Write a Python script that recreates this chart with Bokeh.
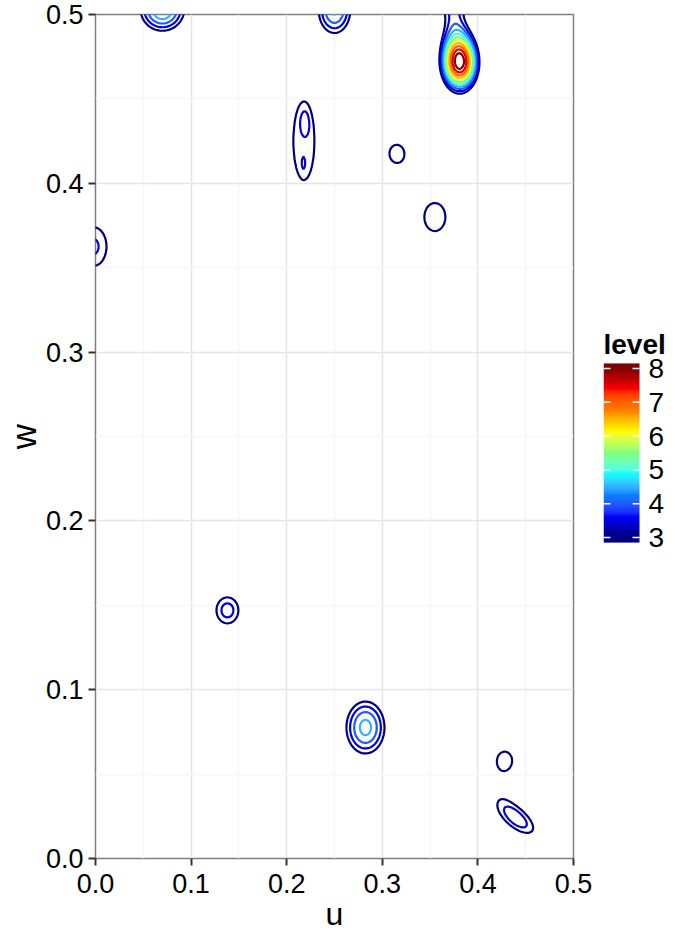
import numpy as np
from bokeh.plotting import figure
from bokeh.layouts import row
from bokeh.models import Range1d, FixedTicker, PrintfTickFormatter, LinearColorMapper
from bokeh.core.properties import value
from bokeh.embed import file_html
from bokeh.resources import INLINE

# ---------------- data ----------------
# peaks of the "level" surface over (u, w)
peak_u      = [0.381, 0.374, 0.070, 0.250, 0.218, 0.219, 0.2175, 0.315, 0.355, -0.002, 0.138, 0.2824, 0.428, 0.4404]
peak_w      = [0.4715, 0.515, 0.503, 0.503, 0.425, 0.436, 0.4115, 0.4177, 0.380, 0.3625, 0.147, 0.0776, 0.058, 0.0237]
peak_height = [8.1, 4.1, 5.0, 4.6, 3.35, 0.45, 0.30, 3.4, 3.4, 3.6, 3.74, 4.68, 3.3, 3.85]
peak_su     = [0.0145, 0.014, 0.0225, 0.018, 0.0142, 0.0035, 0.0016, 0.0146, 0.022, 0.0224, 0.0173, 0.0211, 0.0178, 0.026]
peak_sw     = [0.013, 0.020, 0.0125, 0.0151, 0.0296, 0.0058, 0.0037, 0.010, 0.0166, 0.019, 0.0116, 0.0163, 0.0121, 0.0087]
peak_angle  = [0, 0, 0, 0, 0, 0, 0, 0, 0, 0, 0, 0, 0, -20]
peak_shape  = [1, 1, 1, 1, 3, 1, 1, 1, 1, 1, 1, 1, 1, 1]

levels = [3.0, 3.5, 4.0, 4.5, 5.0, 5.5, 6.0, 6.5, 7.0, 7.5, 8.0]
x_ticks = [0.0, 0.1, 0.2, 0.3, 0.4, 0.5]
y_ticks = [0.0, 0.1, 0.2, 0.3, 0.4, 0.5]
minor_ticks = [0.05, 0.15, 0.25, 0.35, 0.45]
cbar_ticks = [3, 4, 5, 6, 7, 8]
cbar_title = "level"
jet_colours = ["#00007F", "#0000FF", "#007FFF", "#00FFFF", "#7FFF7F",
               "#FFFF00", "#FF7F00", "#FF0000", "#7F0000"]

# ---------------- colour ramp in CIELAB ----------------
WHITE = np.array([0.95047, 1.0, 1.08883])
M = np.array([[0.4124, 0.3576, 0.1805], [0.2126, 0.7152, 0.0722], [0.0193, 0.1192, 0.9505]])
Minv = np.linalg.inv(M)
D = 6 / 29

def hex_to_lab(h):
    c = np.array([int(h[i:i + 2], 16) for i in (1, 3, 5)]) / 255.0
    lin = np.where(c <= 0.04045, c / 12.92, ((c + 0.055) / 1.055) ** 2.4)
    xyz = M @ lin / WHITE
    f = np.where(xyz > D ** 3, np.cbrt(xyz), xyz / (3 * D * D) + 4 / 29)
    return np.array([116 * f[1] - 16, 500 * (f[0] - f[1]), 200 * (f[1] - f[2])])

def lab_to_hex(lab):
    fy = (lab[0] + 16) / 116
    f = np.array([fy + lab[1] / 500, fy, fy - lab[2] / 200])
    xyz = np.where(f > D, f ** 3, 3 * D * D * (f - 4 / 29)) * WHITE
    lin = np.clip(Minv @ xyz, 0, 1)
    c = np.where(lin <= 0.0031308, 12.92 * lin, 1.055 * lin ** (1 / 2.4) - 0.055)
    c = np.clip(np.round(c * 255), 0, 255).astype(int)
    return "#%02x%02x%02x" % tuple(c)

anchors = np.array([hex_to_lab(h) for h in jet_colours])
pos = np.linspace(0, 1, len(jet_colours))

def ramp(t):
    t = float(np.clip(t, 0, 1))
    lab = np.array([np.interp(t, pos, anchors[:, i]) for i in range(3)])
    return lab_to_hex(lab)

lo, hi = min(cbar_ticks), max(cbar_ticks)
line_colours = [ramp((L - lo) / (hi - lo)) for L in levels]
cb_low, cb_high = 2.85, 8.15
NB = 256
cbar_palette = [ramp((cb_low + (cb_high - cb_low) * (i + 0.5) / NB - lo) / (hi - lo)) for i in range(NB)]

# ---------------- surface ----------------
gu = np.arange(-0.03, 0.5301, 0.0015)
gw = np.arange(-0.03, 0.5601, 0.0015)
U, W = np.meshgrid(gu, gw)
Z = np.zeros_like(U)
for u0, w0, h, su, sw, ang, k in zip(peak_u, peak_w, peak_height, peak_su, peak_sw, peak_angle, peak_shape):
    th = np.deg2rad(ang)
    du, dw = U - u0, W - w0
    a = du * np.cos(th) + dw * np.sin(th)
    b = -du * np.sin(th) + dw * np.cos(th)
    q = (a / su) ** 2 + (b / sw) ** 2
    Z += h * np.exp(-0.5 * q ** k)

FONT = "Liberation Sans"
FRAME_H = 844
TOP, BOTTOM = 14, 76

# ---------------- main panel ----------------
p = figure(frame_width=478, frame_height=FRAME_H,
           x_range=Range1d(0, 0.5), y_range=Range1d(0, 0.5),
           output_backend="svg", toolbar_location=None,
           min_border_left=94, min_border_top=TOP, min_border_bottom=BOTTOM, min_border_right=30,
           background_fill_color="white", border_fill_color="white")

p.contour(x=gu, y=gw, z=Z, levels=levels, line_color=line_colours, line_width=2.2)

for ax, ticks, lab in ((p.xaxis, x_ticks, "u"), (p.yaxis, y_ticks, "w")):
    ax.ticker = FixedTicker(ticks=ticks, minor_ticks=minor_ticks)
    ax.formatter = PrintfTickFormatter(format="%.1f")
    ax.axis_label = lab
    ax.axis_label_text_font = FONT
    ax.axis_label_text_font_style = "normal"
    ax.axis_label_text_color = "black"
    ax.major_label_text_font = FONT
    ax.major_label_text_font_size = "27px"
    ax.major_label_text_color = "black"
    ax.axis_line_color = None
    ax.major_tick_line_color = "#333333"
    ax.major_tick_line_width = 2
    ax.major_tick_out = 7
    ax.major_tick_in = 0
    ax.minor_tick_line_color = None
p.xaxis.axis_label_text_font_size = "32px"
p.yaxis.axis_label_text_font_size = "35px"
p.xaxis.major_label_standoff = 8
p.yaxis.major_label_standoff = 5
p.xaxis.axis_label_standoff = 0
p.yaxis.axis_label_standoff = 0

for g in (p.xgrid, p.ygrid):
    g.grid_line_color = "#E6E6E6"
    g.grid_line_width = 1.5
    g.minor_grid_line_color = "#F6F6F6"
    g.minor_grid_line_width = 1.5

p.outline_line_color = "#7F7F7F"
p.outline_line_width = 1.5

# ---------------- colour bar legend (its own panel, same height) ----------------
# vertical placement: tick 8 at 354 px and tick 3 at 523 px below the frame top
px_per_level = (523 - 354) / (hi - lo)
leg_top = hi + 354 / px_per_level
leg_bottom = lo - (FRAME_H - 523) / px_per_level
LEG_W = 73
BAR_W = 36

lg = figure(frame_width=LEG_W, frame_height=FRAME_H,
            x_range=Range1d(0, LEG_W), y_range=Range1d(leg_bottom, leg_top),
            output_backend="svg", toolbar_location=None,
            min_border_left=0, min_border_right=0, min_border_top=TOP, min_border_bottom=BOTTOM,
            background_fill_color="white", border_fill_color="white")
lg.axis.visible = False
lg.grid.visible = False
lg.outline_line_color = None

mapper = LinearColorMapper(palette=cbar_palette, low=cb_low, high=cb_high)
bar_vals = np.linspace(cb_low, cb_high, NB).reshape(-1, 1)
lg.image(image=[bar_vals], x=0, y=cb_low, dw=BAR_W, dh=cb_high - cb_low, color_mapper=mapper)
lg.segment(x0=0, x1=7, y0=cbar_ticks, y1=cbar_ticks, line_color="white", line_width=1.5)
lg.segment(x0=BAR_W - 7, x1=BAR_W, y0=cbar_ticks, y1=cbar_ticks, line_color="white", line_width=1.5)
lg.text(x=BAR_W + 9, y=cbar_ticks, text=[str(t) for t in cbar_ticks],
        text_font=value(FONT), text_font_size="28px", text_color="black",
        text_align="left", text_baseline="middle")
lg.text(x=0, y=hi + 24 / px_per_level, text=[cbar_title],
        text_font=value(FONT), text_font_size="28px", text_font_style="bold",
        text_color="black", text_align="left", text_baseline="alphabetic")

layout = row(p, lg)
open("out.html", "w").write(file_html(layout, INLINE))
